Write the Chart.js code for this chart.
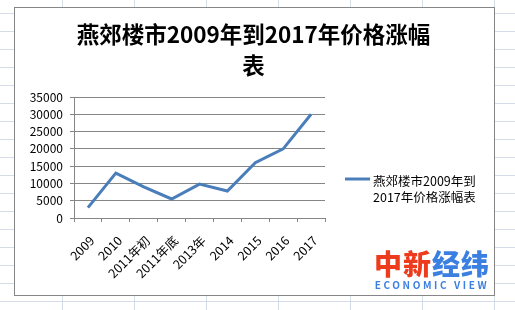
<!DOCTYPE html>
<html>
<head>
<meta charset="utf-8">
<script src="https://cdn.jsdelivr.net/npm/chart.js@4.4.1/dist/chart.umd.min.js"></script>
<style>
  html, body { margin: 0; padding: 0; }
  body {
    width: 515px; height: 310px; overflow: hidden; position: relative;
    background-color: #fff;
    background-image:
      linear-gradient(to right, #d5dce8 1px, transparent 1px),
      linear-gradient(to bottom, #d5dce8 1px, transparent 1px);
    background-size: 72px 100%, 100% 18px;
    background-position: 62px 0, 0 13px;
  }
  #box {
    position: absolute; left: 14px; top: 7px;
    width: 479px; height: 287px;
    border: 1px solid #868686; background: #fff;
  }
  #box canvas { position: absolute; left: 0; top: 0; }
  #logo {
    position: absolute; left: 372px; top: 247px; width: 120px;
    font-family: "Noto Sans CJK SC", sans-serif; text-align: center;
  }
  #logo .cn { font-size: 28px; font-weight: 900; line-height: 32px; letter-spacing: 1px; }
  #logo .en { font-size: 10px; font-weight: 700; color: #3b7fe0; letter-spacing: 2.6px; line-height: 12px; }
</style>
</head>
<body>
<div id="box"><canvas id="chart" width="479" height="287"></canvas></div>
<div id="logo">
  <div class="cn"><span style="color:#ee3b1d">中新</span><span style="color:#3b7fe0">经纬</span></div>
  <div class="en">ECONOMIC VIEW</div>
</div>
<script>
// values
const categories = ['2009', '2010', '2011年初', '2011年底', '2013年', '2014', '2015', '2016', '2017'];
const prices = [3000, 13000, 9000, 5500, 9800, 7800, 16000, 20000, 30000];
const titleLines = ['燕郊楼市2009年到2017年价格涨幅', '表'];
const legendLines = ['燕郊楼市2009年到', '2017年价格涨幅表'];
const yMin = 0, yMax = 35000, yStep = 5000;

const FONT = '"Noto Sans CJK SC", "Noto Sans", sans-serif';
const lineColor = '#4a7ebb';
const axisColor = '#868686';

// title over the whole box and the legend on the right, wrapped like Excel does
const boxText = {
  id: 'boxText',
  afterDraw(chart) {
    const ctx = chart.ctx;
    ctx.save();
    ctx.fillStyle = '#000';
    ctx.textBaseline = 'middle';
    ctx.textAlign = 'center';
    ctx.font = 'bold 22.5px ' + FONT;
    titleLines.forEach((t, i) => ctx.fillText(t, chart.width / 2 - 1, 26 + i * 31));

    const x = chart.chartArea.right + 20;
    const y = 171;
    ctx.strokeStyle = lineColor;
    ctx.lineWidth = 3;
    ctx.beginPath();
    ctx.moveTo(x, y);
    ctx.lineTo(x + 25, y);
    ctx.stroke();
    ctx.textAlign = 'left';
    ctx.font = '12.5px ' + FONT;
    legendLines.forEach((t, i) => ctx.fillText(t, x + 28, y + 2 + i * 16));
    ctx.restore();
  }
};

new Chart(document.getElementById('chart'), {
  type: 'line',
  data: {
    labels: categories,
    datasets: [{
      label: legendLines.join(''),
      data: prices,
      borderColor: lineColor,
      borderWidth: 3,
      pointRadius: 0,
      tension: 0,
      fill: false
    }]
  },
  options: {
    responsive: false,
    animation: false,
    devicePixelRatio: 1,
    layout: { padding: { top: 89, left: 0, right: 169, bottom: 0 } },
    plugins: {
      legend: { display: false },
      tooltip: { enabled: false },
      title: { display: false }
    },
    scales: {
      x: {
        offset: true,
        grid: { drawOnChartArea: false, drawTicks: true, tickLength: 4, color: axisColor, offset: true },
        border: { color: axisColor },
        ticks: { minRotation: 45, maxRotation: 45, autoSkip: false, color: '#000', padding: 11, labelOffset: 4,
                 font: { family: FONT, size: 12.5 } },
        afterFit(s) { s.height = 77; }
      },
      y: {
        min: yMin,
        max: yMax,
        grid: { color: axisColor, tickLength: 4 },
        border: { color: axisColor },
        ticks: { stepSize: yStep, autoSkip: false, color: '#000', padding: 7, font: { family: FONT, size: 12 },
                 callback: v => String(v) },
        afterFit(s) { s.width = 59; }
      }
    }
  },
  plugins: [boxText]
});
</script>
</body>
</html>
